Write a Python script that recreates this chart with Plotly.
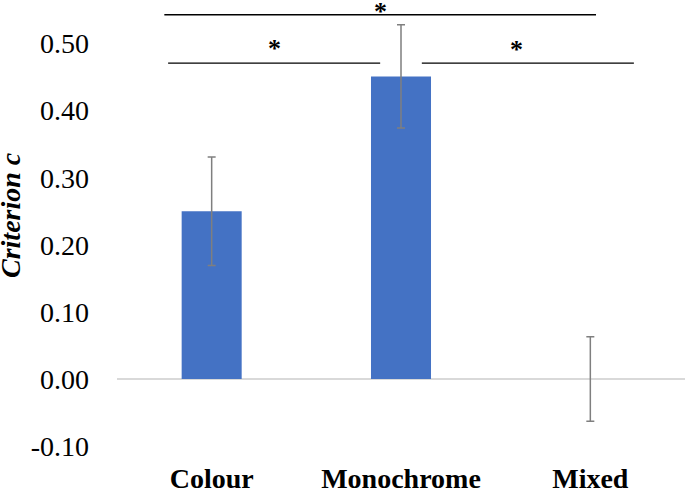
import plotly.graph_objects as go

categories = ["Colour", "Monochrome", "Mixed"]
criterion_c = [0.25, 0.451, 0.0]
error_sem = [0.081, 0.077, 0.063]
y_tick_vals = [-0.10, 0.0, 0.10, 0.20, 0.30, 0.40, 0.50]
y_tick_text = ["-0.10", "0.00", "0.10", "0.20", "0.30", "0.40", "0.50"]

# significance brackets: (x0, x1, line y, star x, star y)
sig_lines = [(-0.25, 2.03, 0.543, 0.89, 0.548),
             (-0.23, 0.89, 0.471, 0.33, 0.493),
             (1.11, 2.23, 0.471, 1.61, 0.491)]

serif = '"Liberation Serif", "Times New Roman", Times, serif'

fig = go.Figure()
fig.add_trace(go.Bar(
    x=[0, 1, 2], y=criterion_c,
    marker=dict(color="#4472C4", line=dict(width=0)),
    width=0.317,
    error_y=dict(type="data", array=error_sem, color="#7f7f7f", thickness=1.5, width=4),
))

for x0, x1, yl, sx, sy in sig_lines:
    fig.add_shape(type="line", xref="x", yref="y", x0=x0, x1=x1, y0=yl, y1=yl,
                  line=dict(color="black", width=1.3))
    fig.add_annotation(x=sx, y=sy, xref="x", yref="y", text="<b>*</b>", showarrow=False,
                       font=dict(family=serif, size=26, color="black"))

fig.add_annotation(x=(11 - 117) / 568, y=(446 - 215) / 446, xref="paper", yref="paper",
                   xanchor="center", yanchor="middle",
                   text="<b><i>Criterion c</i></b>", textangle=-90, showarrow=False,
                   font=dict(family=serif, size=28, color="black"))

fig.update_layout(
    width=685, height=490,
    margin=dict(l=117, r=0, t=0, b=44),
    plot_bgcolor="white", paper_bgcolor="white",
    showlegend=False,
    xaxis=dict(range=[-0.5, 2.5], tickvals=[0, 1, 2], ticktext=["<b>%s</b>" % c for c in categories],
               showgrid=False, zeroline=False, showline=False, ticks="", automargin=False,
               tickfont=dict(family=serif, size=28, color="black"), ticklabelstandoff=13),
    yaxis=dict(range=[-0.1, 0.565], tickvals=y_tick_vals, ticktext=y_tick_text,
               showgrid=False, zeroline=True, zerolinecolor="#d9d9d9", zerolinewidth=1.5,
               showline=False, ticks="", automargin=False,
               tickfont=dict(family=serif, size=28, color="black"), ticklabelstandoff=27),
)

fig.write_html("out.html", config={"displayModeBar": False},
               post_script="document.body.style.margin='0';document.body.style.padding='0';")
